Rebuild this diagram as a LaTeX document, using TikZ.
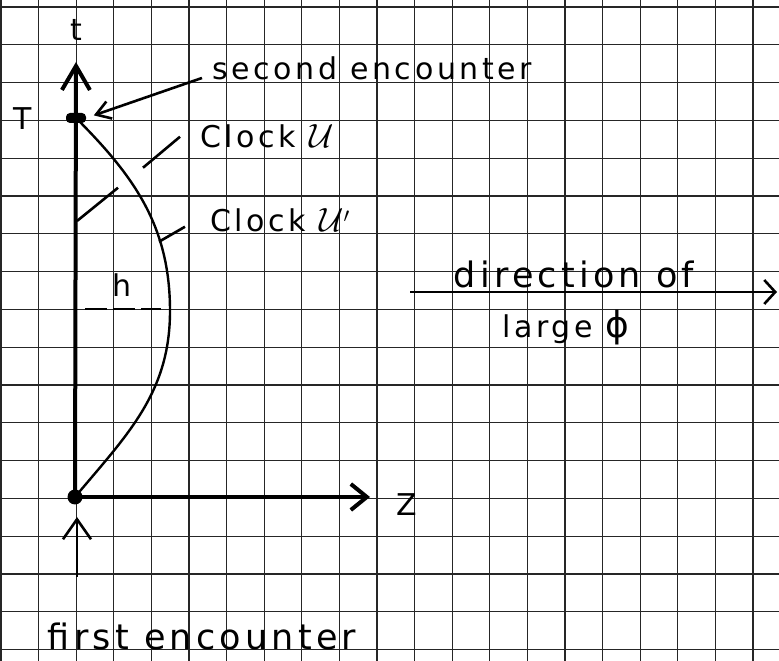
\documentclass[tikz,border=0pt]{standalone}
\usepackage{fontspec}
\setmainfont{DejaVu Sans}[LetterSpace=12]
\usepackage{tikz}
\usetikzlibrary{arrows.meta}
\newcommand{\clk}{\scalebox{1.35}{$\mathcal{U}$}}
\tikzset{
  gridline/.style={line width=1.1pt, black!85},
  axisline/.style={line width=4pt},
  pointer/.style={line width=2.6pt},
  worldline/.style={line width=2.4pt},
  hand/.style={inner sep=0pt, font=\fontsize{30}{32}\selectfont},
  bighand/.style={inner sep=0pt, font=\fontsize{35}{37}\selectfont},
}

\begin{document}
\begin{tikzpicture}[x=1pt, y=1pt]
  \useasboundingbox (0,0) rectangle (779,661);
  \fill[white] (0,0) rectangle (779,661);
  % squared paper
  \foreach \i in {0,...,20}
    \draw[gridline] (1+37.6*\i,0) -- (1+37.6*\i,661);
  \foreach \j in {0,...,17}
    \draw[gridline] (0,654-37.8*\j) -- (779,654-37.8*\j);

  % events
  \node[circle, fill, inner sep=0pt, minimum size=15pt] (O) at (75,164) {};
  \node[rectangle, fill, rounded corners=4pt, inner sep=0pt,
        minimum width=20pt, minimum height=10pt] (Tdot) at (76,543) {};
  \coordinate (ttip) at (76,599);
  \coordinate (zend) at (370,164);
  \coordinate (low) at (77,84);
  \coordinate (lowtip) at (77,144);
  \coordinate (peak) at (170,350);
  \coordinate (onaxis) at (77,440);

  % axes
  \draw[axisline, -{Straight Barb[length=24pt, width=28pt]}] (O.center) -- (ttip);
  \draw[axisline, -{Straight Barb[length=16pt, width=26pt]}] (O.center) -- (zend);
  \draw[pointer, -{Straight Barb[length=20pt, width=28pt]}] (low) -- (lowtip);

  % moving clock
  \draw[worldline] (Tdot.center) to[out=-45, in=90] (peak) to[out=-90, in=50] (O.center);
  \draw[pointer, dashed, dash pattern=on 22pt off 6pt] (85,352) -- (161,352);

  % labels
  \node[hand] (tlab) at (76,631) {t};
  \node[hand] (Tlab) at (23,542) {T};
  \node[hand] (zlab) at (407,156) {Z};
  \node[hand] (hlab) at (122,376) {h};
  \node[hand, anchor=base west] (sec) at (212,581) {second encounter};
  \node[hand, anchor=base west] (cku) at (200,513) {Clock \clk};
  \node[hand, anchor=base west] (cku2) at (210,429) {Clock \clk$'$};
  \node[bighand, anchor=base] (dir) at (574,373) {direction of};
  \node[hand, anchor=base] (large) at (566,323) {large \scalebox{1.2}{ϕ}};
  \node[bighand, anchor=base] (first) at (202,11) {first encounter};

  % pointers
  \draw[pointer, -{Straight Barb[length=14pt, width=18pt]}, shorten >=8pt]
    ([shift={(-10,2)}]sec.base west) -- (Tdot.east);
  \draw[pointer] ([xshift=-20pt]cku.west) -- ++(-37,-31)
    ++(-25,-20) -- (onaxis);
  \draw[pointer] ([shift={(-25,-6)}]cku2.west) -- ++(-26,-15);
  \draw[pointer, -{Straight Barb[length=11pt, width=24pt]}]
    (410,369) -- (777,369);
\end{tikzpicture}
\end{document}
